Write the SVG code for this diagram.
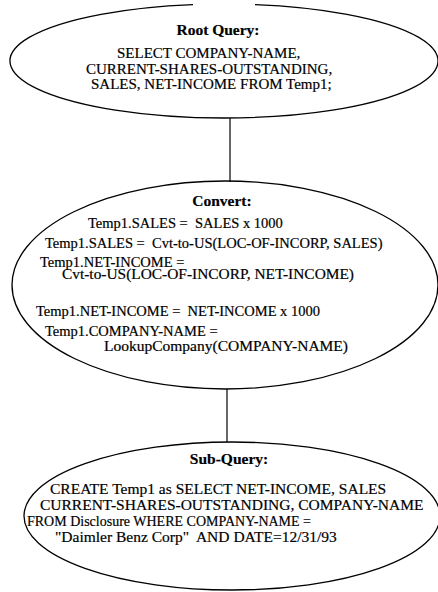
<svg xmlns="http://www.w3.org/2000/svg" width="438" height="592" viewBox="0 0 438 592">
<style>
.shape{fill:none;stroke:#000;stroke-width:1.3}
.line{stroke:#000;stroke-width:1.2;fill:none}
text{font-family:"Liberation Serif","Times New Roman",serif;fill:#000;stroke:#000;stroke-width:0.2;white-space:pre}
.title{font-weight:bold;font-size:15.5px;text-anchor:middle}
.t1{font-size:15px}
.t2{font-size:14.5px}
.t3{font-size:15.5px}
</style>
<rect width="438" height="592" fill="#fff" stroke="none"/>
<g id="connectors">
<line class="line" x1="230" y1="118" x2="230" y2="182"/>
<line class="line" x1="227" y1="389" x2="227" y2="442"/>
</g>
<g id="root-query">
<path class="shape" d="M255,4.6 A214,57 0 1 1 193,4.6"/>
<text class="title" x="218" y="35">Root Query:</text>
<text class="t1" x="117" y="58">SELECT COMPANY-NAME,</text>
<text class="t1" x="86" y="73.5">CURRENT-SHARES-OUTSTANDING,</text>
<text class="t1" x="91" y="88.5">SALES, NET-INCOME FROM Temp1;</text>
</g>
<g id="convert">
<ellipse class="shape" cx="225" cy="285" rx="213" ry="104"/>
<text class="title" x="222" y="206">Convert:</text>
<text class="t2" x="88" y="228">Temp1.SALES =  SALES x 1000</text>
<text class="t2" x="45" y="248">Temp1.SALES =  Cvt-to-US(LOC-OF-INCORP, SALES)</text>
<text class="t2" x="40" y="267">Temp1.NET-INCOME =</text>
<text class="t2" x="62" y="279" textLength="292" lengthAdjust="spacingAndGlyphs">Cvt-to-US(LOC-OF-INCORP, NET-INCOME)</text>
<text class="t2" x="36" y="316">Temp1.NET-INCOME =  NET-INCOME x 1000</text>
<text class="t2" x="45" y="336">Temp1.COMPANY-NAME =</text>
<text class="t2" x="104" y="351" textLength="244" lengthAdjust="spacingAndGlyphs">LookupCompany(COMPANY-NAME)</text>
</g>
<g id="sub-query">
<ellipse class="shape" cx="232" cy="516" rx="208" ry="74"/>
<text class="title" x="229" y="464">Sub-Query:</text>
<text class="t3" x="50" y="494">CREATE Temp1 as SELECT NET-INCOME, SALES</text>
<text class="t3" x="40" y="510">CURRENT-SHARES-OUTSTANDING, COMPANY-NAME</text>
<text class="t3" x="27" y="526" textLength="284" lengthAdjust="spacingAndGlyphs">FROM Disclosure WHERE COMPANY-NAME =</text>
<text class="t3" x="55" y="542">"Daimler Benz Corp"  AND DATE=12/31/93</text>
</g>
</svg>
